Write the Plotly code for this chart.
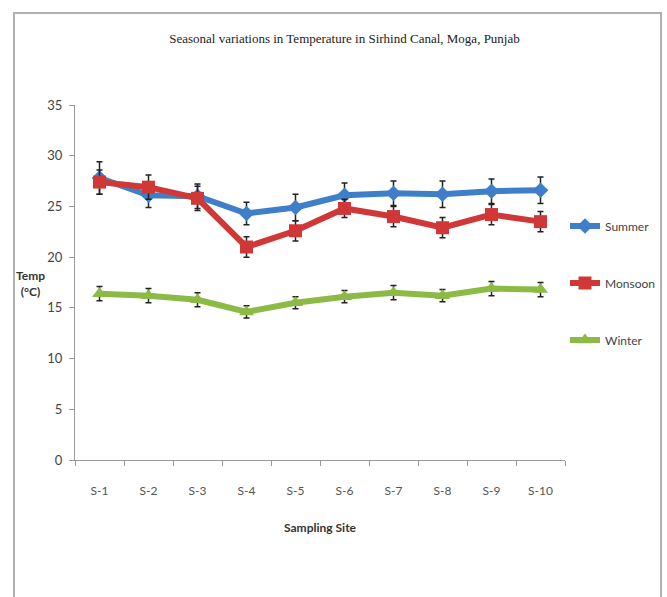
import plotly.graph_objects as go

sites = ["S-1", "S-2", "S-3", "S-4", "S-5", "S-6", "S-7", "S-8", "S-9", "S-10"]
summer = [27.8, 26.1, 26.0, 24.3, 24.9, 26.1, 26.3, 26.2, 26.5, 26.6]
summer_err = [1.6, 1.2, 1.2, 1.1, 1.3, 1.2, 1.2, 1.3, 1.2, 1.3]
monsoon = [27.4, 26.9, 25.8, 21.0, 22.6, 24.8, 24.0, 22.9, 24.2, 23.5]
monsoon_err = [1.2, 1.2, 1.2, 1.0, 1.0, 0.9, 1.0, 1.0, 1.0, 1.0]
winter = [16.4, 16.2, 15.8, 14.6, 15.5, 16.1, 16.5, 16.2, 16.9, 16.8]
winter_err = [0.7, 0.7, 0.7, 0.6, 0.6, 0.6, 0.7, 0.6, 0.7, 0.7]

series = [
    ("Summer", summer, summer_err, "#3F7EC8", "diamond", 12),
    ("Monsoon", monsoon, monsoon_err, "#D03838", "square", 13),
    ("Winter", winter, winter_err, "#8CBA45", "triangle-up", 13),
]

FONT = "Lato, Carlito, sans-serif"

fig = go.Figure()
for i, (name, vals, err, col, sym, sz) in enumerate(series):
    fig.add_trace(go.Scatter(
        x=sites, y=vals, name=name, mode="lines+markers",
        line=dict(color=col, width=6),
        marker=dict(color=col, symbol=sym, size=sz),
        error_y=dict(type="data", array=err, visible=True, color="#222222",
                     thickness=1.5, width=3),
        legendgroup=name,
    ))

fig.update_layout(
    width=667, height=597,
    margin=dict(l=75, r=102, t=105, b=137, autoexpand=False),
    paper_bgcolor="white", plot_bgcolor="white",
    showlegend=True,
    legend=dict(x=1.0, y=0.70, xanchor="left", yanchor="top",
                font=dict(family=FONT, size=12, color="#444444"),
                tracegroupgap=38, itemwidth=30, bgcolor="rgba(0,0,0,0)"),
    title=dict(text="Seasonal variations in Temperature in Sirhind Canal, Moga, Punjab",
               x=0.55, xref="paper", xanchor="center", y=0.935, yanchor="middle",
               font=dict(family="Liberation Serif, Times New Roman, serif", size=13, color="#222222")),
    xaxis=dict(type="category", range=[-0.5, 9.5], showline=True, linecolor="#999999",
               linewidth=1, ticks="outside", tickcolor="#999999", ticklen=5,
               tickson="boundaries", showgrid=False, zeroline=False,
               ticklabelstandoff=20,
               tickfont=dict(family=FONT, size=12, color="#555555"),
               title=dict(text="<b>Sampling Site</b>", standoff=26,
                          font=dict(family=FONT, size=12, color="#333333"))),
    yaxis=dict(range=[0, 35], dtick=5, showline=True, linecolor="#999999", linewidth=1,
               ticks="outside", tickcolor="#999999", ticklen=5, showgrid=False, zeroline=False,
               ticklabelstandoff=4,
               tickfont=dict(family=FONT, size=13, color="#444444")),
    shapes=[dict(type="rect", xref="paper", yref="paper",
                 x0=-0.1245, x1=1.196, y0=-0.40, y1=1.259,
                 line=dict(color="#B0B0B0", width=2))],
    annotations=[dict(text="<b>Temp<br>(°C)</b>", xref="paper", yref="paper",
                      x=(30 - 75) / 490, y=(460 - 283) / 355, xanchor="center", yanchor="middle",
                      showarrow=False, align="center",
                      font=dict(family=FONT, size=12, color="#333333"))],
)

fig.write_html("out.html")
